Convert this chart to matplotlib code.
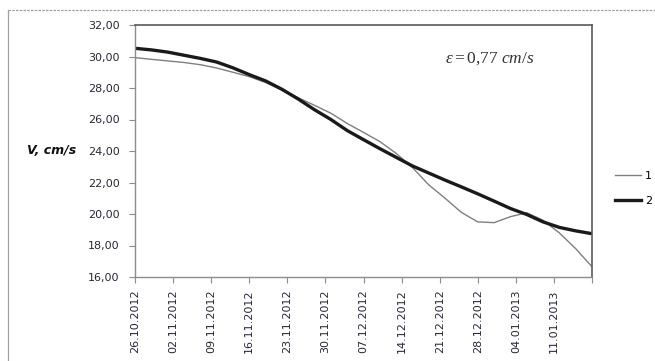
import numpy as np
import matplotlib
matplotlib.use('Agg')
import matplotlib.pyplot as plt
from matplotlib.lines import Line2D
from matplotlib.ticker import FuncFormatter

matplotlib.rcParams['font.family'] = 'DejaVu Sans'
matplotlib.rcParams['mathtext.fontset'] = 'custom'
matplotlib.rcParams['mathtext.rm'] = 'Liberation Serif'
matplotlib.rcParams['mathtext.it'] = 'Liberation Serif:italic'

# дни от 26.10.2012, шаг 3 суток
days = [0, 3, 6, 9, 12, 15, 18, 21, 24, 27, 30, 33, 36, 39, 42,
        45, 48, 51, 54, 57, 60, 63, 66, 69, 72, 75, 78, 81, 84]
v1 = [29.93, 29.82, 29.72, 29.62, 29.48, 29.27, 29.00, 28.72, 28.35, 27.88,
      27.38, 26.90, 26.40, 25.75, 25.18, 24.60, 23.85, 22.95, 21.85, 21.00,
      20.10, 19.50, 19.45, 19.83, 20.08, 19.60, 18.80, 17.80, 16.65]
v2 = [30.52, 30.42, 30.28, 30.08, 29.88, 29.65, 29.28, 28.85, 28.45, 27.92,
      27.30, 26.62, 26.00, 25.30, 24.72, 24.15, 23.60, 23.05, 22.60, 22.15,
      21.72, 21.28, 20.82, 20.35, 19.97, 19.50, 19.15, 18.93, 18.75]
tick_days = [0, 7, 14, 21, 28, 35, 42, 49, 56, 63, 70, 77, 84]
tick_labels = ['26.10.2012', '02.11.2012', '09.11.2012', '16.11.2012',
               '23.11.2012', '30.11.2012', '07.12.2012', '14.12.2012',
               '21.12.2012', '28.12.2012', '04.01.2013', '11.01.2013', '']

fig = plt.figure(figsize=(6.55, 3.61), dpi=100)
ax = fig.add_axes([135/655, 1 - 277/361, 457/655, 252/361])

l1, = ax.plot(days, v1, color='#7f7f7f', lw=1.0, label='1')
l2, = ax.plot(days, v2, color='#1a1a1a', lw=2.4, label='2')

ax.set_xlim(0, 84)
ax.set_ylim(16, 32)
ax.set_yticks(np.arange(16, 33, 2))
ax.yaxis.set_major_formatter(FuncFormatter(lambda v, p: ('%.2f' % v).replace('.', ',')))
ax.set_xticks(tick_days)
ax.set_xticklabels(tick_labels, rotation=90, va='top', ha='center')

ax.tick_params(axis='both', direction='out', length=4, width=0.8,
               color='#8c8c8c', labelsize=8, labelcolor='#26263a')
ax.tick_params(axis='x', pad=5)
ax.tick_params(axis='y', pad=7)

for s in ['left', 'bottom']:
    ax.spines[s].set_color('#8c8c8c')
    ax.spines[s].set_linewidth(1.0)
for s in ['top', 'right']:
    ax.spines[s].set_color('#5a5a5a')
    ax.spines[s].set_linewidth(1.2)

fig.text(52/655, 1 - 150/361, 'V, cm/s', fontsize=9, fontweight='bold',
         fontstyle='italic', ha='center', va='center', color='#111111')

ax.text(0.776, 0.87, r'$\varepsilon = 0{,}77\ cm/s$', transform=ax.transAxes,
        fontsize=12.5, ha='center', va='center', color='#333333')

ax.legend(handles=[l1, l2], loc='center left', bbox_to_anchor=(1.04, 0.351),
          frameon=False, fontsize=8, handlelength=2.4, handletextpad=0.3,
          labelspacing=1.35, borderaxespad=0)

# рамка области диаграммы
fig.add_artist(Line2D([8/655, 8/655], [1 - 10/361, -0.1], color='#a0a0a0', lw=0.9))
fig.add_artist(Line2D([8/655, 1.1], [1 - 10/361, 1 - 10/361], color='#a0a0a0',
                      lw=0.9, ls=(0, (2, 1))))

fig.savefig('out.png', dpi=100)
